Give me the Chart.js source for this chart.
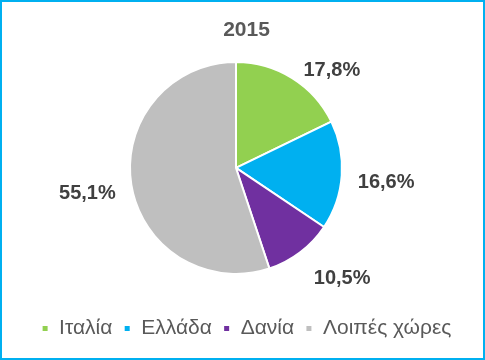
<!DOCTYPE html>
<html>
<head>
<meta charset="utf-8">
<script src="https://cdn.jsdelivr.net/npm/chart.js@4"></script>
<style>
    body { margin: 0; background: #fff; }
    #wrap { position: relative; width: 485px; height: 360px; }
    #frame {
        position: absolute; left: 0; top: 0;
        width: 485px; height: 360px;
        box-sizing: border-box;
        border: 2px solid #00b0f0;
        pointer-events: none;
    }
</style>
</head>
<body>
<div id="wrap">
    <canvas id="pieChart" width="485" height="360"></canvas>
    <div id="frame"></div>
</div>
<script>
var countries = ["Ιταλία", "Ελλάδα", "Δανία", "Λοιπές χώρες"];
var shares = [17.8, 16.6, 10.5, 55.1];
var chartTitle = "2015";

var sliceColors = ['#92d050', '#00b0f0', '#7030a0', '#bfbfbf'];
var fontFamily = '"Liberation Sans", Arial, sans-serif';

// small nudges for the value labels after they are put on the slice's radial line
var labelNudge = [[16, 30], [0, 4], [15, -9], [0, 2]];
// pie sits a bit left/up of the plot area centre in the original
var pieNudge = { x: -10.5, y: -7 };

var pieShift = {
    id: 'pieShift',
    afterLayout: function (chart) {
        var a = chart.chartArea;
        a.left += pieNudge.x;
        a.right += pieNudge.x;
        a.top += pieNudge.y;
        a.bottom += pieNudge.y;
    }
};

var sliceLabels = {
    id: 'sliceLabels',
    afterDatasetsDraw: function (chart) {
        var ctx = chart.ctx;
        var arcs = chart.getDatasetMeta(0).data;
        ctx.save();
        ctx.font = 'bold 20px ' + fontFamily;
        ctx.fillStyle = '#404040';
        ctx.textAlign = 'center';
        ctx.textBaseline = 'middle';
        arcs.forEach(function (arc, i) {
            var mid = (arc.startAngle + arc.endAngle) / 2;
            var r = arc.outerRadius * 1.42;
            var x = arc.x + Math.cos(mid) * r + labelNudge[i][0];
            var y = arc.y + Math.sin(mid) * r + labelNudge[i][1];
            ctx.fillText(shares[i].toFixed(1).replace('.', ',') + '%', x, y);
        });
        ctx.restore();
    }
};

var ctxPie = document.getElementById('pieChart').getContext('2d');
var pieChart = new Chart(ctxPie, {
    type: 'pie',
    data: {
        labels: countries,
        datasets: [{
            data: shares,
            backgroundColor: sliceColors,
            borderColor: '#ffffff',
            borderWidth: 2,
            radius: 106
        }]
    },
    options: {
        responsive: false,
        animation: false,
        layout: {
            padding: { left: 8, bottom: 11 }
        },
        plugins: {
            title: {
                display: true,
                text: chartTitle,
                color: '#595959',
                font: { family: fontFamily, size: 21, weight: 'bold' },
                padding: { top: 18, bottom: 0 }
            },
            legend: {
                position: 'bottom',
                labels: {
                    boxWidth: 7,
                    boxHeight: 7,
                    padding: 11.3,
                    color: '#595959',
                    font: { family: fontFamily, size: 21 }
                }
            },
            tooltip: { enabled: false }
        }
    },
    plugins: [pieShift, sliceLabels]
});
</script>
</body>
</html>
